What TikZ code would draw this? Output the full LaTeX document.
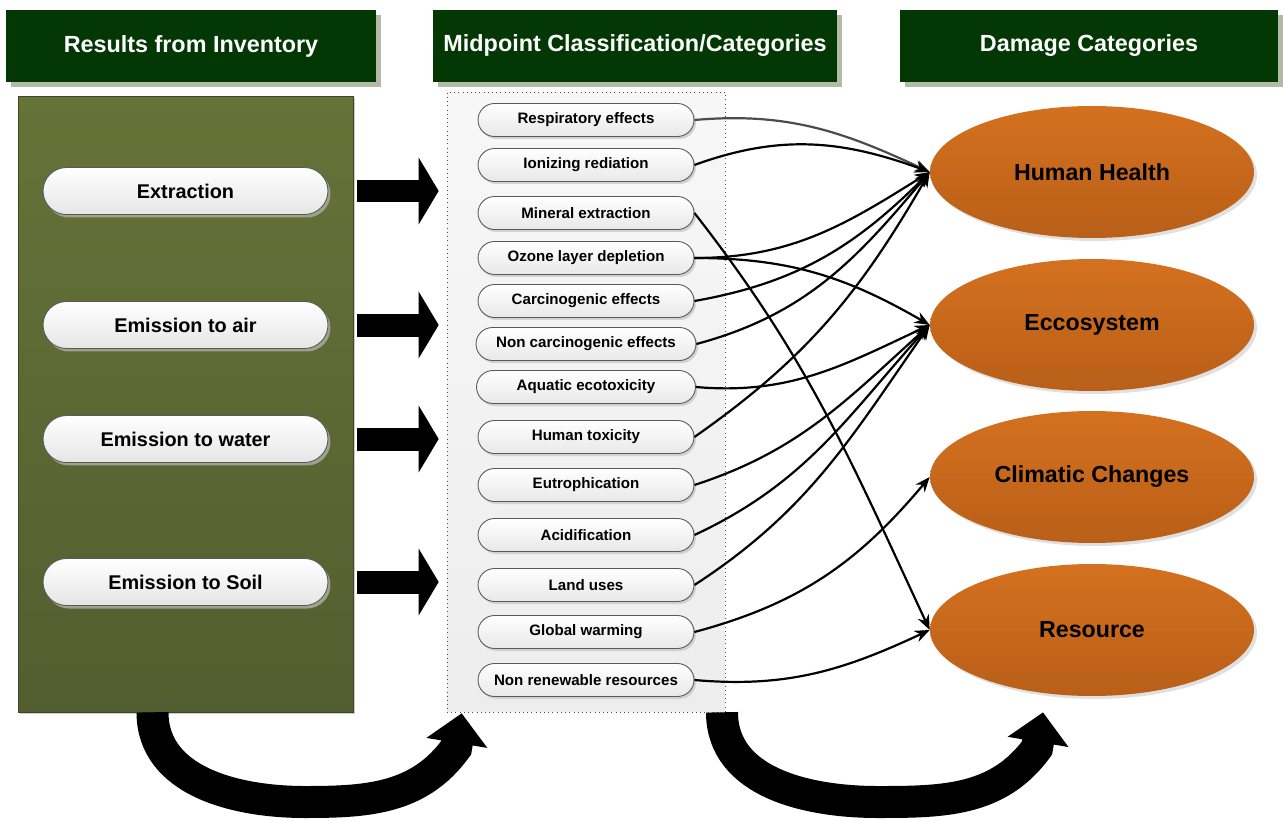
\documentclass[tikz,border=0pt]{standalone}
\usepackage{fontspec}
\setmainfont{Liberation Sans}
\usetikzlibrary{shapes.geometric,shapes.misc,arrows.meta,shadows,calc}
\definecolor{headgreen}{HTML}{033805}
\definecolor{headshade}{HTML}{B3BBA6}
\definecolor{invtop}{HTML}{657339}
\definecolor{invbot}{HTML}{525E2F}
\definecolor{invedge}{HTML}{3E4626}
\definecolor{damtop}{HTML}{D4711F}
\definecolor{dambot}{HTML}{B95F18}
\definecolor{pillshade}{HTML}{9EA18C}
\tikzset{
	headbox/.style={fill=headgreen, text=white, minimum height=1.44cm, inner sep=0pt,
		font=\bfseries\fontsize{13.3}{16}\selectfont,
		drop shadow={shadow xshift=0.1cm, shadow yshift=-0.1cm, fill=headshade, opacity=1}},
	invpill/.style={rounded rectangle, draw=black!65, line width=0.5pt, top color=white,
		bottom color=black!10, minimum width=5.7cm, minimum height=0.94cm, inner sep=0pt,
		font=\bfseries\fontsize{11.3}{13}\selectfont,
		drop shadow={shadow xshift=0.05cm, shadow yshift=-0.06cm, fill=pillshade, opacity=1}},
	midpill/.style={rounded rectangle, draw=black!65, line width=0.5pt, top color=white,
		bottom color=black!9, minimum width=4.32cm, minimum height=0.66cm, inner sep=0pt,
		font=\bfseries\fontsize{8.6}{10}\selectfont,
		drop shadow={shadow xshift=0.04cm, shadow yshift=-0.05cm, fill=black!18, opacity=1}},
	damage/.style={ellipse, minimum width=6.48cm, minimum height=2.64cm, inner sep=0pt,
		top color=damtop, bottom color=dambot, font=\bfseries\fontsize{13.2}{16}\selectfont,
		drop shadow={shadow xshift=0.06cm, shadow yshift=-0.06cm, fill=black!12, opacity=1}},
	blockarrow/.style={line width=0.46cm, -{Triangle[length=0.4cm, width=1.32cm]}},
	turnarrow/.style={line width=0.64cm, -{Triangle[length=0.6cm, width=1.2cm]}},
	link/.style={line width=1.25pt, -{Stealth[length=0.3cm, width=0.24cm]}}
}
\begin{document}
\begin{tikzpicture}[x=0.02cm, y=-0.02cm]
	\useasboundingbox (0,0) rectangle (1284,821);
	% column headers
	\node[headbox, minimum width=7.4cm] (hinv) at (191,46) {Results from Inventory};
	\node[headbox, minimum width=8.08cm] (hmid) at (635,46) {Midpoint Classification/Categories};
	\node[headbox, minimum width=7.56cm] (hdam) at (1089,46) {Damage Categories};
	% panels
	\node[draw=invedge, top color=invtop, bottom color=invbot, minimum width=6.7cm,
		minimum height=12.32cm, inner sep=0pt,
		drop shadow={shadow xshift=0.04cm, shadow yshift=-0.04cm, fill=black!20, opacity=1}]
		(invpanel) at (185.5,404) {};
	\node[draw=black!70, dotted, top color=black!3, bottom color=black!7, minimum width=5.56cm,
		minimum height=12.4cm, inner sep=0pt] (midpanel) at (586,402) {};
	% inventory results
	\node[invpill] (extr) at (185.5,191) {Extraction};
	\node[invpill] (air) at (185.5,325) {Emission to air};
	\node[invpill] (water) at (185.5,439) {Emission to water};
	\node[invpill] (soil) at (185.5,582) {Emission to Soil};
	% midpoint categories
	\node[midpill] (resp) at (586,120) {Respiratory effects};
	\node[midpill] (ioniz) at (586,165) {Ionizing rediation};
	\node[midpill] (miner) at (586,213) {Mineral extraction};
	\node[midpill] (ozone) at (586,258) {Ozone layer depletion};
	\node[midpill] (carc) at (586,301) {Carcinogenic effects};
	\node[midpill, minimum width=4.4cm] (noncarc) at (586,344) {Non carcinogenic effects};
	\node[midpill, minimum width=4.38cm] (aquat) at (586,387) {Aquatic ecotoxicity};
	\node[midpill] (humtox) at (586,437) {Human toxicity};
	\node[midpill] (eutro) at (586,485) {Eutrophication};
	\node[midpill] (acid) at (586,535) {Acidification};
	\node[midpill] (land) at (586,585) {Land uses};
	\node[midpill] (warm) at (586,632) {Global warming};
	\node[midpill] (nonren) at (586,680) {Non renewable resources};
	% damage categories
	\node[damage] (hh) at (1092,172) {Human Health};
	\node[damage] (eco) at (1092,325) {Eccosystem};
	\node[damage] (clim) at (1092,477) {Climatic Changes};
	\node[damage] (res) at (1092,630) {Resource};
	% block arrows
	\draw[blockarrow] ($(extr.east)+(29,0)$) -- ($(midpanel.west |- extr)+(-8,0)$);
	\draw[blockarrow] ($(air.east)+(29,0)$) -- ($(midpanel.west |- air)+(-8,0)$);
	\draw[blockarrow] ($(water.east)+(29,0)$) -- ($(midpanel.west |- water)+(-8,0)$);
	\draw[blockarrow] ($(soil.east)+(29,0)$) -- ($(midpanel.west |- soil)+(-8,0)$);
	% turning arrows below
	\draw[turnarrow] ($(invpanel.south)+(-33,0)$) to[out=-90,in=180] (305,802)
		to[out=0,in=-126] (456,748) -- ($(midpanel.south west)+(15,1)$);
	\draw[turnarrow] ($(midpanel.south)+(136,0)$) to[out=-90,in=180] (878,802)
		to[out=0,in=-126] (1037,748) -- ($(res.south)+(-49,16)$);
	% links
	\draw[link, draw=black!70] (resp.east) to[out=5,in=155] (hh.west);
	\draw[link] (ioniz.east) to[out=20,in=160] (hh.west);
	\draw[link] (ozone.east) to[out=0,in=212] (hh.west);
	\draw[link] (carc.east) to[out=10,in=225] (hh.west);
	\draw[link] (noncarc.east) to[out=15,in=230] (hh.west);
	\draw[link] (humtox.east) to[out=35,in=240] (hh.west);
	\draw[link] (ozone.east) to[out=0,in=150] (eco.west);
	\draw[link] (aquat.east) to[out=-5,in=205] (eco.west);
	\draw[link] (eutro.east) to[out=18,in=222] (eco.west);
	\draw[link] (acid.east) to[out=25,in=228] (eco.west);
	\draw[link] (land.east) to[out=33,in=235] (eco.west);
	\draw[link] (warm.east) to[out=15,in=230] (clim.west);
	\draw[link] (nonren.east) to[out=-5,in=205] (res.west);
	\draw[link] (miner.east) to[out=-52,in=115] (res.west);
\end{tikzpicture}
\end{document}
